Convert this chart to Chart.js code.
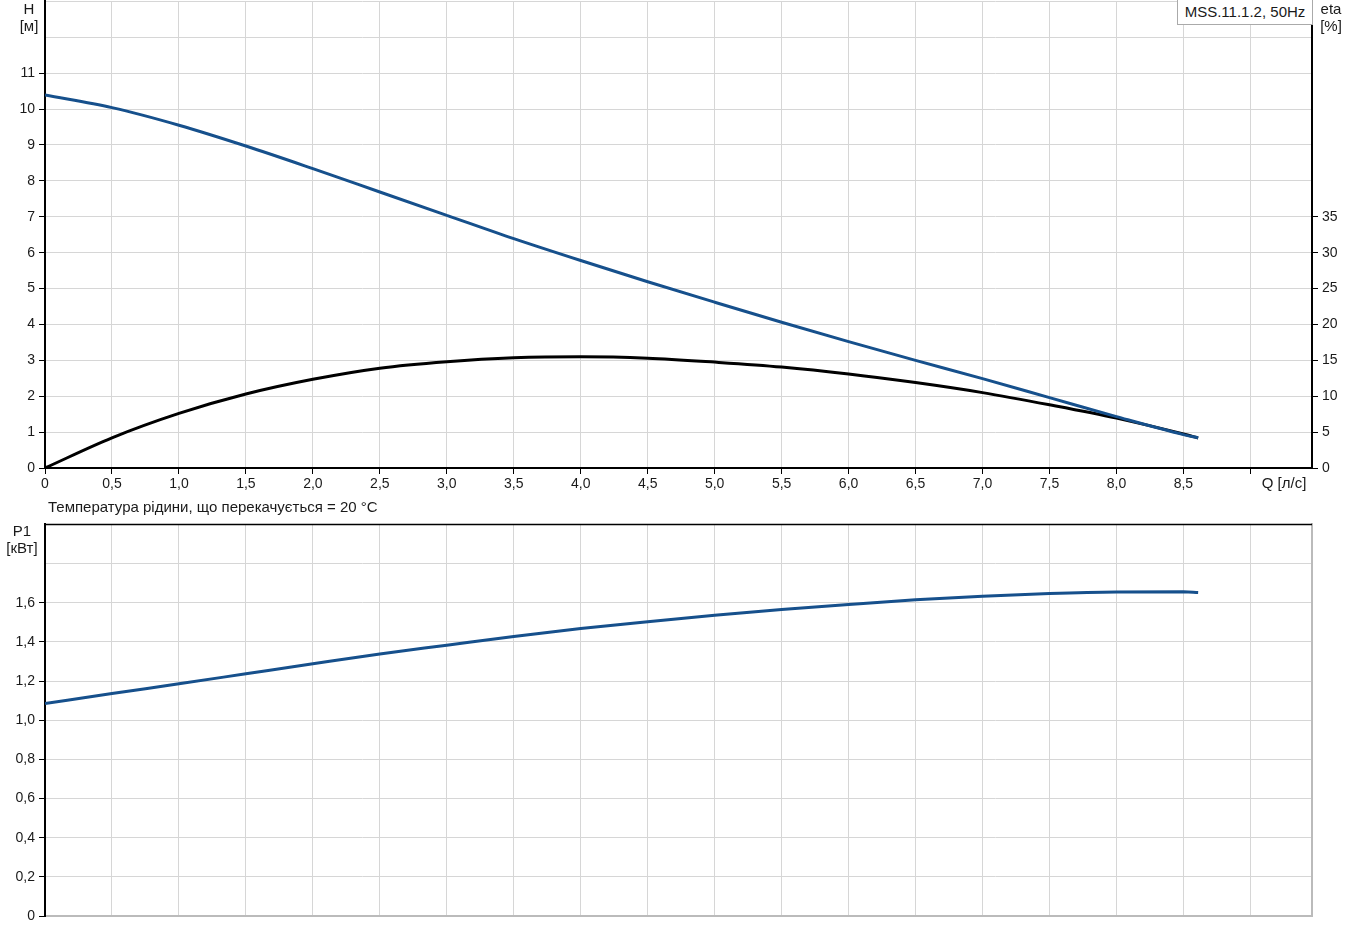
<!DOCTYPE html>
<html>
<head>
<meta charset="utf-8">
<script src="https://cdn.jsdelivr.net/npm/chart.js@4.4.0/dist/chart.umd.min.js"></script>
<style>
body { margin: 0; background: #fff; font-family: "Liberation Sans", Arial, sans-serif; color: #1a1a1a; overflow: hidden; }
.lbl { position: absolute; font-size: 15px; text-align: center; line-height: 17px; }
#top { position: absolute; left: 0; top: -11px; }
#bottom { position: absolute; left: 0; top: 512px; }
#legend { position: absolute; left: 1177px; top: 0; width: 134px; height: 24px; border: 1px solid #aaa; border-top: none; background: #fff; font-size: 15px; line-height: 24px; text-align: center; }
</style>
</head>
<body>
<canvas id="top" width="1349" height="511"></canvas>
<canvas id="bottom" width="1349" height="426"></canvas>
<div class="lbl" style="left:14px;top:0px;width:30px;">H<br>[м]</div>
<div class="lbl" style="left:1315px;top:0px;width:32px;">eta<br>[%]</div>
<div class="lbl" style="left:1253px;top:474px;width:62px;">Q [л/с]</div>
<div class="lbl" style="left:48px;top:498px;text-align:left;">Температура рідини, що перекачується = 20 °C</div>
<div class="lbl" style="left:1px;top:522px;width:42px;">P1<br>[кВт]</div>
<div id="legend">MSS.11.1.2, 50Hz</div>
<script>
// flow, l/s
var flow = [0, 0.5, 1.0, 1.5, 2.0, 2.5, 3.0, 3.5, 4.0, 4.5, 5.0, 5.5, 6.0, 6.5, 7.0, 7.5, 8.0, 8.5, 8.61];
// head, m
var head = [10.39, 10.04, 9.55, 8.97, 8.34, 7.69, 7.04, 6.39, 5.78, 5.19, 4.62, 4.06, 3.52, 3.0, 2.49, 1.96, 1.43, 0.93, 0.84];
// efficiency, %
var eta = [0, 4.2, 7.6, 10.3, 12.35, 13.9, 14.8, 15.35, 15.5, 15.3, 14.75, 14.07, 13.1, 11.9, 10.5, 8.8, 6.95, 4.74, 4.18];
// power input, kW
var power = [1.085, 1.136, 1.186, 1.237, 1.288, 1.338, 1.383, 1.428, 1.468, 1.503, 1.536, 1.565, 1.591, 1.615, 1.633, 1.647, 1.655, 1.656, 1.652];

var blue = '#16508c';
var gridCol = '#d6d6d6';
var tickFont = { family: 'Liberation Sans', size: 14 };

function pts(ys) {
    return flow.map(function (q, i) { return { x: q, y: ys[i] }; });
}
function comma(v) {
    return v === 0 ? '0' : v.toFixed(1).replace('.', ',');
}
function halfSteps(scale) {
    scale.ticks = scale.ticks.filter(function (t) {
        return Math.abs(t.value * 2 - Math.round(t.value * 2)) < 1e-6;
    });
}

var frame = {
    id: 'frame',
    afterDraw: function (chart, args, opts) {
        if (!opts.topColor) return;
        var a = chart.chartArea, c = chart.ctx;
        c.save();
        c.strokeStyle = opts.topColor;
        c.lineWidth = 1.5;
        c.beginPath();
        c.moveTo(a.left, a.top);
        c.lineTo(a.right, a.top);
        c.stroke();
        c.restore();
    }
};

new Chart(document.getElementById('top'), {
    type: 'line',
    data: {
        datasets: [
            { data: pts(head), borderColor: blue, borderWidth: 3, pointRadius: 0, cubicInterpolationMode: 'monotone', yAxisID: 'y' },
            { data: pts(eta), borderColor: '#000', borderWidth: 3, pointRadius: 0, cubicInterpolationMode: 'monotone', yAxisID: 'y1' }
        ]
    },
    options: {
        responsive: false,
        animation: false,
        layout: { padding: 0 },
        plugins: { legend: { display: false }, tooltip: { enabled: false } },
        scales: {
            x: {
                type: 'linear', min: 0, max: 9.46,
                ticks: { stepSize: 0.5, font: tickFont, color: '#1a1a1a', padding: 2, maxRotation: 0,
                    callback: function (v) { return v > 8.5 ? '' : comma(v); } },
                afterBuildTicks: halfSteps,
                grid: { color: gridCol, tickLength: 6, tickColor: '#000' },
                border: { color: '#000', width: 2 },
                afterFit: function (s) { s.height = 32; }
            },
            y: {
                min: 0, max: 13,
                ticks: { stepSize: 1, font: tickFont, color: '#1a1a1a', padding: 4,
                    callback: function (v) { return v > 11 ? '' : v; } },
                grid: { color: gridCol, tickLength: 6,
                    tickColor: function (c) { return c.tick && c.tick.value > 11 ? 'rgba(0,0,0,0)' : '#000'; } },
                border: { color: '#000', width: 2 },
                afterFit: function (s) { s.width = 45; }
            },
            y1: {
                position: 'right', min: 0, max: 65,
                ticks: { stepSize: 5, font: tickFont, color: '#1a1a1a', padding: 4,
                    callback: function (v) { return v > 35 ? '' : v; } },
                grid: { drawOnChartArea: false, tickLength: 6,
                    tickColor: function (c) { return c.tick && c.tick.value > 35 ? 'rgba(0,0,0,0)' : '#000'; } },
                border: { color: '#000', width: 2 },
                afterFit: function (s) { s.width = 37; }
            }
        }
    }
});

new Chart(document.getElementById('bottom'), {
    type: 'line',
    data: {
        datasets: [
            { data: pts(power), borderColor: blue, borderWidth: 3, pointRadius: 0, cubicInterpolationMode: 'monotone' }
        ]
    },
    options: {
        responsive: false,
        animation: false,
        layout: { padding: 0 },
        plugins: { legend: { display: false }, tooltip: { enabled: false }, frame: { topColor: '#000' } },
        scales: {
            x: {
                type: 'linear', min: 0, max: 9.46,
                ticks: { stepSize: 0.5, display: false },
                afterBuildTicks: halfSteps,
                grid: { color: gridCol, drawTicks: false },
                border: { color: '#bbb', width: 2 },
                afterFit: function (s) { s.height = 22; }
            },
            y: {
                min: 0, max: 2.0,
                ticks: { stepSize: 0.2, font: tickFont, color: '#1a1a1a', padding: 4,
                    callback: function (v) { return v > 1.61 ? '' : comma(v); } },
                grid: { color: gridCol, tickLength: 6,
                    tickColor: function (c) { return c.tick && c.tick.value > 1.61 ? 'rgba(0,0,0,0)' : '#000'; } },
                border: { color: '#000', width: 2 },
                afterFit: function (s) { s.width = 45; }
            },
            y1: {
                position: 'right', min: 0, max: 2.0,
                ticks: { display: false },
                grid: { drawOnChartArea: false, drawTicks: false },
                border: { color: '#bbb', width: 2 },
                afterFit: function (s) { s.width = 37; }
            }
        }
    },
    plugins: [frame]
});
</script>
</body>
</html>
